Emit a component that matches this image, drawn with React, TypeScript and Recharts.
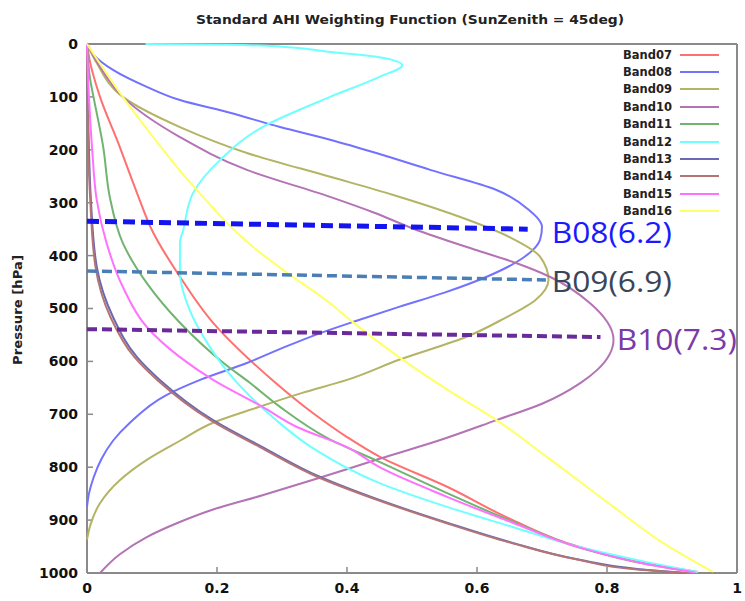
import { ScatterChart, Scatter, XAxis, YAxis, Legend } from 'recharts'

// weighting value (w) vs pressure level (p, hPa) for each AHI band
const band07 = [[0, 0], [0.004, 30], [0.02, 100], [0.048, 187], [0.078, 285], [0.1, 352], [0.143, 440], [0.194, 527], [0.246, 592], [0.285, 635], [0.348, 698], [0.4, 743], [0.45, 780], [0.554, 837], [0.655, 900], [0.758, 951], [0.86, 982], [0.94, 998]]
const band08 = [[0, 0], [0.01, 20], [0.04, 49], [0.092, 81], [0.143, 106], [0.22, 130], [0.297, 157], [0.374, 181], [0.45, 208], [0.528, 238], [0.63, 276], [0.68, 314], [0.7, 346], [0.697, 370], [0.67, 405], [0.615, 440], [0.55, 470], [0.48, 497], [0.41, 525], [0.36, 546], [0.3, 575], [0.246, 603], [0.174, 635], [0.12, 665], [0.066, 716], [0.04, 750], [0.022, 785], [0.01, 820], [0.003, 850], [0, 875]]
const band09 = [[0, 0], [0.015, 36], [0.055, 100], [0.143, 157], [0.246, 206], [0.374, 251], [0.47, 285], [0.558, 320], [0.65, 365], [0.697, 402], [0.71, 446], [0.69, 484], [0.64, 520], [0.585, 553], [0.48, 597], [0.4, 635], [0.33, 660], [0.26, 688], [0.194, 716], [0.143, 750], [0.092, 786], [0.05, 825], [0.02, 868], [0.005, 910], [0, 937]]
const band10 = [[0, 0], [0.02, 43], [0.055, 100], [0.143, 176], [0.246, 238], [0.374, 289], [0.44, 318], [0.508, 352], [0.6, 390], [0.66, 414], [0.712, 440], [0.774, 490], [0.81, 559], [0.785, 616], [0.76, 640], [0.7, 680], [0.63, 711], [0.54, 750], [0.45, 784], [0.358, 820], [0.27, 853], [0.194, 880], [0.14, 905], [0.092, 932], [0.05, 965], [0.02, 1000]]
const band11 = [[0, 0], [0.005, 68], [0.01, 100], [0.025, 195], [0.035, 289], [0.055, 376], [0.092, 452], [0.143, 527], [0.21, 603], [0.25, 640], [0.297, 686], [0.37, 745], [0.45, 790], [0.554, 849], [0.655, 903], [0.758, 952], [0.86, 983], [0.94, 999]]
const band12 = [[0.09, 0.2], [0.22, 1.5], [0.3, 5], [0.374, 15], [0.45, 25], [0.485, 40], [0.45, 62], [0.374, 100], [0.27, 157], [0.205, 219], [0.163, 282], [0.148, 352], [0.143, 376], [0.143, 433], [0.158, 503], [0.185, 565], [0.218, 622], [0.25, 665], [0.29, 710], [0.345, 762], [0.45, 830], [0.554, 875], [0.655, 913], [0.758, 951], [0.86, 979], [0.94, 998]]
const band13 = [[0, 0], [0.001, 100], [0.003, 200], [0.006, 295], [0.015, 421], [0.04, 516], [0.077, 592], [0.112, 635], [0.194, 711], [0.27, 762], [0.358, 818], [0.45, 862], [0.554, 905], [0.655, 943], [0.758, 975], [0.85, 993], [0.92, 1000]]
const band14 = [[0, 0], [0.001, 100], [0.002, 200], [0.005, 295], [0.013, 421], [0.036, 516], [0.073, 592], [0.108, 635], [0.19, 711], [0.266, 762], [0.354, 818], [0.447, 862], [0.551, 905], [0.652, 943], [0.756, 975], [0.85, 994], [0.925, 1000]]
const band15 = [[0, 0], [0.003, 100], [0.008, 200], [0.015, 295], [0.03, 376], [0.055, 459], [0.092, 535], [0.143, 592], [0.194, 635], [0.27, 686], [0.323, 724], [0.4, 762], [0.45, 800], [0.554, 856], [0.655, 905], [0.758, 952], [0.86, 983], [0.935, 999]]
const band16 = [[0, 0], [0.055, 100], [0.105, 181], [0.155, 257], [0.183, 295], [0.215, 338], [0.252, 380], [0.305, 430], [0.374, 490], [0.405, 522], [0.48, 592], [0.55, 650], [0.63, 711], [0.708, 781], [0.81, 875], [0.886, 943], [0.963, 998]]

// peak level markers: dashed line from the axis, tag at the right end
const peakNames = ['B08(6.2)', 'B09(6.9)', 'B10(7.3)']
const peakLines = [
  [[0, 335], [0.678, 350]],
  [[0, 429], [0.706, 446]],
  [[0, 539], [0.79, 554]],
]
const peakTagAt = [[0.715, 355], [0.715, 448], [0.815, 556]]

const xTicks = [0, 0.2, 0.4, 0.6, 0.8, 1]
const yTicks = [0, 100, 200, 300, 400, 500, 600, 700, 800, 900, 1000]

const toPts = (rows: number[][]) => rows.map(([w, p]) => ({ w, p }))

const BANDS = [
  { name: 'Band07', color: '#ff7070', rows: band07 },
  { name: 'Band08', color: '#7272ff', rows: band08 },
  { name: 'Band09', color: '#b4b466', rows: band09 },
  { name: 'Band10', color: '#b473b4', rows: band10 },
  { name: 'Band11', color: '#70b470', rows: band11 },
  { name: 'Band12', color: '#70ffff', rows: band12 },
  { name: 'Band13', color: '#6a6ab4', rows: band13 },
  { name: 'Band14', color: '#b47474', rows: band14 },
  { name: 'Band15', color: '#ff72ff', rows: band15 },
  { name: 'Band16', color: '#ffff66', rows: band16 },
]

const PEAKS = [
  { line: '#1414f0', tag: '#1a1aff', width: 5, dash: '12 6' },
  { line: '#4a7fb5', tag: '#39465a', width: 3.5, dash: '10 5' },
  { line: '#6a2a9a', tag: '#7a3aa8', width: 4, dash: '10 5' },
]

const BORDER = '#8a8a8a'
const TICK_FONT = { fontFamily: 'DejaVu Sans', fontWeight: 'bold' as const, fontSize: 14, fill: '#111' }

const noDot = () => <g />

const tagShape = (text: string, color: string) => (props: any) => (
  <text x={props.cx} y={props.cy} fill={color} fontSize={30} fontFamily="Open Sans"
    dominantBaseline="central" textLength={120} lengthAdjust="spacingAndGlyphs">{text}</text>
)

function LegendBox({ payload }: any) {
  const items = (payload || []).filter((e: any) => e.type !== 'none' && String(e.value).startsWith('Band'))
  return (
    <div>
      {items.map((e: any) => (
        <div key={e.value} style={{ display: 'flex', alignItems: 'center', height: 17.4 }}>
          <span style={{ width: 60, textAlign: 'right', font: 'bold 11.5px "DejaVu Sans"', color: '#222' }}>{e.value}</span>
          <span style={{ marginLeft: 8, width: 39, height: 2, background: e.color }} />
        </div>
      ))}
    </div>
  )
}

export default function App() {
  return (
    <div style={{ position: 'absolute', left: 0, top: 0, width: 745, height: 601, background: '#fff' }}>
      <svg width={745} height={40} style={{ position: 'absolute', left: 0, top: 0 }}>
        <text x={410} y={24} textAnchor="middle" fontFamily="DejaVu Sans" fontWeight="bold" fontSize={13}
          fill="#222" textLength={428} lengthAdjust="spacingAndGlyphs">
          Standard AHI Weighting Function (SunZenith = 45deg)
        </text>
      </svg>
      <ScatterChart width={745} height={601} margin={{ top: 43, right: 7, bottom: 0, left: 27 }}>
        <XAxis dataKey="w" type="number" domain={[0, 1]} ticks={xTicks} interval={0}
          height={28} tickSize={-6} tickMargin={16} tick={TICK_FONT}
          axisLine={{ stroke: BORDER, strokeWidth: 2 }} tickLine={{ stroke: BORDER, strokeWidth: 1.5 }} />
        <XAxis xAxisId="top" orientation="top" dataKey="w" type="number" domain={[0, 1]} ticks={xTicks} interval={0}
          height={1} tickSize={-6} tick={noDot}
          axisLine={{ stroke: BORDER, strokeWidth: 2 }} tickLine={{ stroke: BORDER, strokeWidth: 1.5 }} />
        <YAxis dataKey="p" type="number" domain={[0, 1000]} reversed ticks={yTicks} interval={0}
          width={60} tickSize={-6} tickMargin={15} tick={TICK_FONT}
          axisLine={{ stroke: BORDER, strokeWidth: 2 }} tickLine={{ stroke: BORDER, strokeWidth: 1.5 }}
          label={{
            content: ({ viewBox }: any) => (
              <text transform={`translate(${viewBox.x - 9}, 310) rotate(-90)`} textAnchor="middle"
                dominantBaseline="central" fontFamily="DejaVu Sans" fontWeight="bold" fontSize={12}
                fill="#222" textLength={110} lengthAdjust="spacingAndGlyphs">Pressure [hPa]</text>
            ),
          }} />
        <YAxis yAxisId="right" orientation="right" dataKey="p" type="number" domain={[0, 1000]} reversed
          ticks={yTicks} interval={0} width={1} tickSize={-6} tick={noDot}
          axisLine={{ stroke: BORDER, strokeWidth: 2 }} tickLine={{ stroke: BORDER, strokeWidth: 1.5 }} />
        <Legend layout="horizontal" verticalAlign="middle" align="center" content={<LegendBox />}
          wrapperStyle={{ left: 612, top: 46, width: 120 }} />
        {BANDS.map((b) => (
          <Scatter key={b.name} name={b.name} data={toPts(b.rows)} fill={b.color}
            line={{ strokeWidth: 2 }} lineJointType="monotoneY" shape={noDot} isAnimationActive={false} />
        ))}
        {PEAKS.map((pk, i) => (
          <Scatter key={`line-${i}`} name={`${peakNames[i]} level`} legendType="none" data={toPts(peakLines[i])}
            fill={pk.line} line={{ strokeWidth: pk.width, strokeDasharray: pk.dash }} shape={noDot}
            isAnimationActive={false} />
        ))}
        {PEAKS.map((pk, i) => (
          <Scatter key={`tag-${i}`} name={peakNames[i]} legendType="none" data={toPts([peakTagAt[i]])}
            fill={pk.tag} shape={tagShape(peakNames[i], pk.tag)} isAnimationActive={false} />
        ))}
      </ScatterChart>
    </div>
  )
}
